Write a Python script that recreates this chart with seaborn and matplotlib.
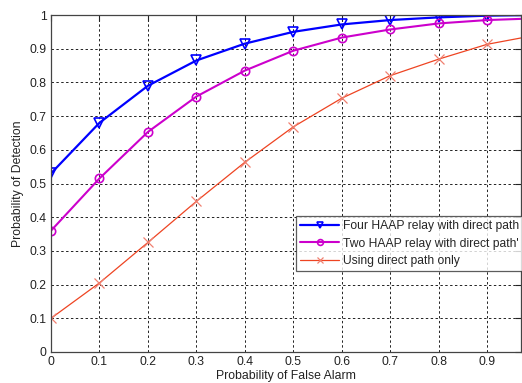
import matplotlib
matplotlib.use("Agg")
import matplotlib.pyplot as plt
import seaborn as sns
import numpy as np
import pandas as pd

# Data
pfa = [0.0, 0.1, 0.2, 0.3, 0.4, 0.5, 0.6, 0.7, 0.8, 0.9, 1.0]
four_relay = [0.53, 0.68, 0.79, 0.865, 0.915, 0.950, 0.972, 0.985, 0.993, 0.998, 1.0]
two_relay = [0.36, 0.515, 0.653, 0.758, 0.835, 0.894, 0.933, 0.957, 0.975, 0.985, 0.99]
direct_only = [0.10, 0.205, 0.325, 0.447, 0.563, 0.668, 0.753, 0.820, 0.869, 0.913, 0.94]
labels = ["Four HAAP relay with direct path", "Two HAAP relay with direct path'", "Using direct path only"]
xticks = [0, 0.1, 0.2, 0.3, 0.4, 0.5, 0.6, 0.7, 0.8, 0.9]
yticks = [0, 0.1, 0.2, 0.3, 0.4, 0.5, 0.6, 0.7, 0.8, 0.9, 1]

sns.set_style("white")
plt.rcParams['font.family'] = ['Liberation Sans', 'DejaVu Sans']

fig = plt.figure(figsize=(5.22, 3.83), dpi=100)
ax = fig.add_axes([51/522, 31/383, (521-51)/522, (352-15)/383])

sns.lineplot(x=pfa, y=four_relay, ax=ax, color="#0000ff", lw=1.6, marker="v",
             markersize=6.5, markerfacecolor="none", markeredgecolor="#0000ff",
             markeredgewidth=1.2, label=labels[0])
sns.lineplot(x=pfa, y=two_relay, ax=ax, color="#cc00cc", lw=1.5, marker="o",
             markersize=6, markerfacecolor="none", markeredgecolor="#cc00cc",
             markeredgewidth=1.2, label=labels[1])
sns.lineplot(x=pfa, y=direct_only, ax=ax, color="#ee4422", lw=0.9, marker="x",
             markersize=6.5, markeredgecolor="#f08070", markeredgewidth=0.9,
             label=labels[2])

ax.set_xlim(0, 0.97)
ax.set_ylim(0, 1)
ax.set_xticks(xticks)
ax.set_yticks(yticks)
ax.set_xticklabels([f"{t:g}" for t in xticks])
ax.set_yticklabels([f"{t:g}" for t in yticks])
ax.tick_params(direction="in", length=4, width=0.8, labelsize=8.8, colors="#222222",
               top=True, right=True, pad=3)
ax.grid(True, color="#222222", linestyle=(0, (2.5, 2.5)), lw=0.7)
for s in ax.spines.values():
    s.set_color("#444444")
    s.set_linewidth(0.9)

ax.set_xlabel("Probability of False Alarm", fontsize=8.8, labelpad=1, color="#222222")
ax.set_ylabel("Probability of Detection", fontsize=8.8, labelpad=4, color="#222222")

leg = ax.legend(loc="upper left", bbox_to_anchor=(296/522, 1 - 216/383),
                bbox_transform=fig.transFigure, fontsize=8.7, frameon=True,
                fancybox=False, handlelength=3.2, handletextpad=0.3,
                borderpad=0.35, labelspacing=0.45, borderaxespad=0, markerscale=0.7)
leg.get_frame().set_edgecolor("#333333")
leg.get_frame().set_linewidth(0.9)

fig.savefig("out.png", dpi=100)
